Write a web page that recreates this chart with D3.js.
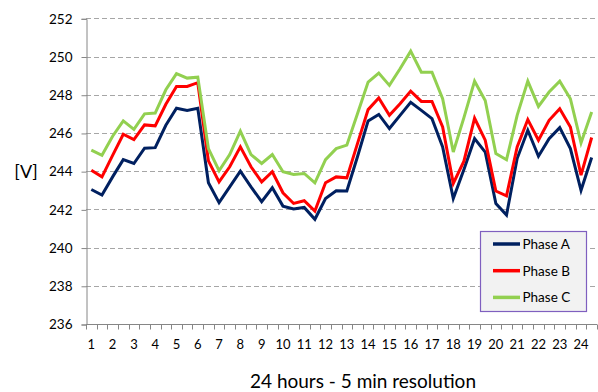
<!DOCTYPE html>
<html>
<head>
<meta charset="utf-8">
<script src="https://cdn.jsdelivr.net/npm/d3@7"></script>
<style>
  html, body { margin: 0; padding: 0; background: #fff; }
  svg { display: block; }
  text { font-family: Lato, "Open Sans", sans-serif; fill: #000; }
</style>
</head>
<body>
<svg id="chart" width="598" height="392"></svg>
<script>
// 48 half-hour slots over 24 hours
const slots = d3.range(1, 49);
const hourLabels = d3.range(1, 25).map(String);
const yTicks = [236, 238, 240, 242, 244, 246, 248, 250, 252];
const seriesNames = ["Phase A", "Phase B", "Phase C"];

const phaseA = [243.04, 242.75, 243.7, 244.6, 244.4, 245.2, 245.23, 246.4, 247.29, 247.18,
  247.29, 243.39, 242.35, 243.18, 244.0, 243.18, 242.4, 243.13, 242.17, 242.02,
  242.1, 241.48, 242.57, 242.97, 242.96, 244.75, 246.63, 246.97, 246.23, 246.92,
  247.6, 247.18, 246.75, 245.27, 242.57, 244.09, 245.7, 245.0, 242.31, 241.7,
  244.66, 246.14, 244.78, 245.7, 246.28, 245.18, 243.0, 244.71];
const phaseB = [244.05, 243.7, 244.83, 245.93, 245.65, 246.42, 246.37, 247.5, 248.43, 248.43,
  248.63, 244.54, 243.44, 244.23, 245.27, 244.23, 243.44, 243.97, 242.87, 242.31,
  242.45, 241.91, 243.39, 243.7, 243.65, 245.44, 247.22, 247.83, 246.92, 247.53,
  248.19, 247.65, 247.65, 246.31, 243.36, 244.52, 246.77, 245.62, 242.96, 242.71,
  245.27, 246.7, 245.62, 246.66, 247.27, 246.31, 243.79, 245.76];
const phaseC = [245.1, 244.83, 245.83, 246.63, 246.19, 247.0, 247.04, 248.26, 249.1, 248.87,
  248.92, 245.18, 244.02, 244.87, 246.09, 244.87, 244.4, 244.87, 243.97, 243.83,
  243.88, 243.39, 244.6, 245.18, 245.36, 247.0, 248.66, 249.13, 248.49, 249.36,
  250.28, 249.18, 249.18, 247.79, 245.0, 246.8, 248.71, 247.7, 244.92, 244.6,
  246.92, 248.71, 247.39, 248.14, 248.71, 247.79, 245.48, 247.1];

const colors = ["#002060", "#FF0000", "#92D050"];
const seriesData = [phaseA, phaseB, phaseC];

const svg = d3.select("#chart");
const plotL = 86, plotR = 597, plotT = 18.3, plotB = 324;

const x = d3.scaleBand().domain(slots).range([plotL, plotR]).padding(0);
const y = d3.scaleLinear().domain([236, 252]).range([plotB, plotT]);

// gridlines
svg.append("g").selectAll("line")
  .data(yTicks.filter(d => d > 236))
  .join("line")
  .attr("x1", plotL).attr("x2", plotR)
  .attr("y1", d => Math.round(y(d)) + 0.5).attr("y2", d => Math.round(y(d)) + 0.5)
  .attr("stroke", "#A6A6A6").attr("stroke-width", 1.2)
  .attr("stroke-dasharray", "5,3");

// y axis
const yAxis = d3.axisLeft(y).tickValues(yTicks).tickSize(5).tickPadding(9).tickFormat(d3.format("d"));
const gy = svg.append("g").attr("transform", `translate(${plotL + 0.5},0.5)`).call(yAxis);
gy.select(".domain").attr("stroke", "#868686");
gy.selectAll(".tick line").attr("stroke", "#868686");
gy.selectAll(".tick text").attr("font-family", "Lato, sans-serif").attr("font-size", 13.5).attr("fill", "#000");

// x axis: tick marks at category boundaries
const gx = svg.append("g");
gx.append("line").attr("x1", plotL).attr("x2", plotR)
  .attr("y1", Math.round(plotB) + 0.5).attr("y2", Math.round(plotB) + 0.5)
  .attr("stroke", "#868686");
gx.selectAll("line.tk").data(d3.range(0, slots.length + 1)).join("line")
  .attr("class", "tk")
  .attr("x1", i => Math.round(plotL + i * x.bandwidth()) + 0.5)
  .attr("x2", i => Math.round(plotL + i * x.bandwidth()) + 0.5)
  .attr("y1", Math.round(plotB) + 0.5).attr("y2", Math.round(plotB) + 5.5)
  .attr("stroke", "#868686");
gx.selectAll("text").data(hourLabels).join("text")
  .attr("x", (d, i) => x(slots[i * 2]) + x.bandwidth() / 2)
  .attr("y", 349)
  .attr("text-anchor", "middle")
  .attr("font-size", 13)
  .text(d => d);

// axis titles
svg.append("text").attr("x", 26).attr("y", 178).attr("text-anchor", "middle")
  .attr("font-size", 18).text("[V]");
svg.append("text").attr("x", 363).attr("y", 388).attr("text-anchor", "middle")
  .attr("font-size", 19).text("24 hours - 5 min resolution");

// lines
const line = d3.line()
  .x((d, i) => x(slots[i]) + x.bandwidth() / 2)
  .y(d => y(d));
svg.append("g").selectAll("path").data(seriesData).join("path")
  .attr("d", d => line(d))
  .attr("fill", "none")
  .attr("stroke", (d, i) => colors[i])
  .attr("stroke-width", 3)
  .attr("stroke-linejoin", "miter");

// legend
const lg = svg.append("g");
lg.append("rect").attr("x", 480.5).attr("y", 231.5).attr("width", 106).attr("height", 80)
  .attr("fill", "#F2F2F2").attr("stroke", "#7F5FBF").attr("stroke-width", 1.2);
const items = lg.selectAll("g").data(seriesNames).join("g")
  .attr("transform", (d, i) => `translate(0,${244 + i * 26.7})`);
items.append("line").attr("x1", 493).attr("x2", 520).attr("y1", 0).attr("y2", 0)
  .attr("stroke", (d, i) => colors[i]).attr("stroke-width", 3.5);
items.append("text").attr("x", 522.5).attr("y", 5).attr("font-size", 13.5).text(d => d);
</script>
</body>
</html>
